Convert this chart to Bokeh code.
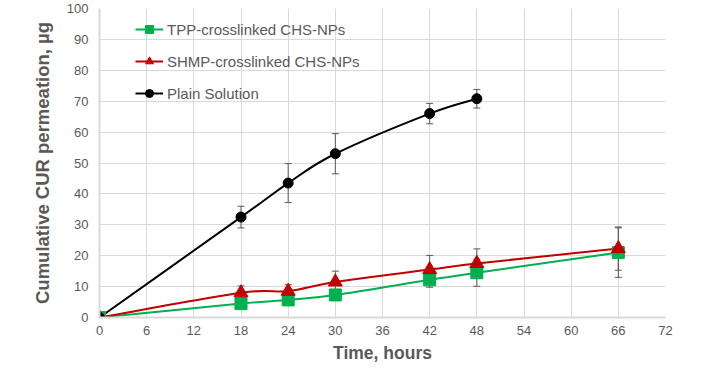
import numpy as np
from bokeh.plotting import figure
from bokeh.models import (ColumnDataSource, Whisker, TeeHead, Legend, LegendItem,
                          FixedTicker, Range1d)
from bokeh.embed import file_html
from bokeh.resources import INLINE

# ---- data ----
time_tpp = [0, 18, 24, 30, 42, 48, 66]
tpp = [0, 4.5, 5.7, 7.3, 12.2, 14.5, 21.0]
tpp_err = [0, 1.5, 1.5, 1.5, 2.4, 4.4, 8.0]

time_shmp = [0, 18, 24, 30, 42, 48, 66]
shmp = [0, 8.0, 8.5, 11.5, 15.5, 17.5, 22.3]
shmp_err = [0, 2.2, 2.1, 3.5, 4.6, 4.7, 7.0]

time_plain = [0, 18, 24, 30, 42, 48]
plain = [0, 32.5, 43.5, 53.0, 66.0, 70.8]
plain_err = [0, 3.5, 6.3, 6.5, 3.3, 3.0]

labels = ["TPP-crosslinked CHS-NPs", "SHMP-crosslinked CHS-NPs", "Plain Solution"]
colors = ["#00b050", "#c00000", "#000000"]
x_ticks = [0, 6, 12, 18, 24, 30, 36, 42, 48, 54, 60, 66, 72]
y_ticks = [0, 10, 20, 30, 40, 50, 60, 70, 80, 90, 100]

TXT = "#595959"
FONT = "Liberation Sans"

p = figure(width=700, height=365, output_backend="svg", toolbar_location=None,
           x_range=Range1d(0, 72), y_range=Range1d(0, 100),
           min_border_left=99, min_border_right=35, min_border_top=8,
           min_border_bottom=48)
p.outline_line_color = None
p.background_fill_color = "white"

for ax in (p.xaxis[0], p.yaxis[0]):
    ax.major_tick_line_color = None
    ax.minor_tick_line_color = None
    ax.major_tick_out = 0
    ax.major_tick_in = 0
    ax.minor_tick_out = 0
    ax.minor_tick_in = 0
    ax.axis_line_color = "#d9d9d9"
    ax.axis_line_width = 2
    ax.major_label_text_color = TXT
    ax.major_label_text_font = FONT
    ax.major_label_text_font_size = "13px"
    ax.axis_label_text_color = TXT
    ax.axis_label_text_font = FONT
    ax.axis_label_text_font_style = "bold"
    ax.axis_label_text_font_size = "17.5px"

p.yaxis.axis_label_text_font_size = "18.5px"
p.xaxis.ticker = FixedTicker(ticks=x_ticks)
p.yaxis.ticker = FixedTicker(ticks=y_ticks)
p.xaxis.axis_label = "Time, hours"
p.yaxis.axis_label = "Cumulative CUR permeation, µg"
p.xaxis.major_label_standoff = 8
p.yaxis.major_label_standoff = 11
p.xaxis.axis_label_standoff = 5
p.yaxis.axis_label_standoff = 11
p.xgrid.ticker = FixedTicker(ticks=x_ticks)
p.ygrid.ticker = FixedTicker(ticks=y_ticks)
p.grid.grid_line_color = "#d9d9d9"
p.grid.grid_line_width = 1


def bezier_segments(xs, ys):
    xs = np.asarray(xs, float)
    ys = np.asarray(ys, float)
    n = len(xs)
    x0, y0, x1, y1, cx0, cy0, cx1, cy1 = ([] for _ in range(8))
    for i in range(n - 1):
        im = max(i - 1, 0)
        ip = min(i + 2, n - 1)
        x0.append(xs[i]); y0.append(ys[i])
        x1.append(xs[i + 1]); y1.append(ys[i + 1])
        cx0.append(xs[i] + (xs[i + 1] - xs[im]) / 6)
        cy0.append(ys[i] + (ys[i + 1] - ys[im]) / 6)
        cx1.append(xs[i + 1] - (xs[ip] - xs[i]) / 6)
        cy1.append(ys[i + 1] - (ys[ip] - ys[i]) / 6)
    return dict(x0=x0, y0=y0, x1=x1, y1=y1, cx0=cx0, cy0=cy0, cx1=cx1, cy1=cy1)


series = [
    (time_tpp, tpp, tpp_err, "square", 12),
    (time_shmp, shmp, shmp_err, "triangle", 14),
    (time_plain, plain, plain_err, "circle", 10),
]

items = []
curve_renderers = []
marker_renderers = []
for (xs, ys, err, marker, size), col, lab in zip(series, colors, labels):
    bsrc = ColumnDataSource(bezier_segments(xs, ys))
    cr = p.bezier(x0="x0", y0="y0", x1="x1", y1="y1", cx0="cx0", cy0="cy0",
                  cx1="cx1", cy1="cy1", source=bsrc, line_color=col, line_width=2)
    curve_renderers.append(cr)

for (xs, ys, err, marker, size), col, lab in zip(series, colors, labels):
    src = ColumnDataSource(dict(x=xs, y=ys,
                                lo=[a - b for a, b in zip(ys, err)],
                                hi=[a + b for a, b in zip(ys, err)]))
    w = Whisker(base="x", lower="lo", upper="hi", source=src,
                line_color="#595959", line_width=1,
                upper_head=TeeHead(size=7, line_color="#595959", line_width=1),
                lower_head=TeeHead(size=7, line_color="#595959", line_width=1))
    p.add_layout(w)

for (xs, ys, err, marker, size), col, lab in zip(series, colors, labels):
    src = ColumnDataSource(dict(x=xs, y=ys))
    mr = p.scatter(x="x", y="y", source=src, marker=marker, size=size,
                   fill_color=col, line_color=col)
    marker_renderers.append(mr)

for cr, mr, lab in zip(curve_renderers, marker_renderers, labels):
    items.append(LegendItem(label=lab, renderers=[cr, mr]))

legend = Legend(items=items, location=(36, 214), margin=0, padding=0,
                spacing=12, label_height=20, glyph_height=20, glyph_width=28,
                label_standoff=4, label_text_font=FONT, label_text_font_size="15px",
                label_text_color=TXT, background_fill_alpha=0,
                border_line_alpha=0)
p.add_layout(legend)

open("out.html", "w").write(file_html(p, INLINE))
